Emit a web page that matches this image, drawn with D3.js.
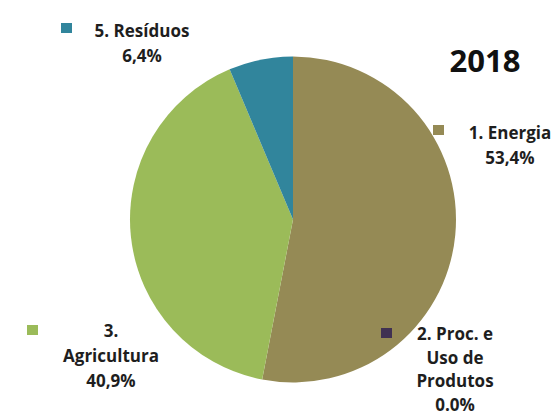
<!DOCTYPE html>
<html>
<head>
<meta charset="utf-8">
<script src="https://cdn.jsdelivr.net/npm/d3@7"></script>
<style>
  body { margin: 0; background: #fff; }
  svg { display: block; }
  .lbl { font-family: "Open Sans", sans-serif; font-weight: 700; font-size: 17px; fill: #1e1e1e; }
  .title { font-family: "Open Sans", sans-serif; font-weight: 700; font-size: 31px; fill: #111; }
</style>
</head>
<body>
<script>
// Data (clockwise from 12 o'clock)
var categories = ["1. Energia", "2. Proc. e Uso de Produtos", "3. Agricultura", "5. Resíduos"];
var values = [53.4, 0.0, 40.9, 6.4];
var valueLabels = ["53,4%", "0.0%", "40,9%", "6,4%"];
var colors = ["#958a55", "#403152", "#9bbb59", "#31859c"];

// label lines as they are wrapped in the picture
var labelLines = [
  ["1. Energia", "53,4%"],
  ["2. Proc. e", "Uso de", "Produtos", "0.0%"],
  ["3.", "Agricultura", "40,9%"],
  ["5. Resíduos", "6,4%"]
];

var svgWidth = 554;
var svgHeight = 418;

var svg = d3.select("body")
  .append("svg")
  .attr("width", svgWidth)
  .attr("height", svgHeight);

var cx = 293, cy = 219.5, radius = 163;

var pie = d3.pie().sort(null).value(d => d);
var arc = d3.arc().innerRadius(0).outerRadius(radius);

var pieGroup = svg.append("g")
  .attr("transform", `translate(${cx}, ${cy})`);

pieGroup.selectAll("path")
  .data(pie(values))
  .enter()
  .append("path")
  .attr("d", arc)
  .attr("fill", (d, i) => colors[i]);

// title
svg.append("text")
  .attr("class", "title")
  .attr("x", 485)
  .attr("y", 72)
  .attr("text-anchor", "middle")
  .text("2018");

// legend-style labels: marker + centred lines
var labelPos = [
  { mx: 433, my: 125, tx: 510, ty: 139, gap: 25 },
  { mx: 381, my: 328, tx: 455, ty: 340, gap: 23.5 },
  { mx: 27, my: 325, tx: 111, ty: 337, gap: 25 },
  { mx: 61, my: 23, tx: 142, ty: 37, gap: 25 }
];

labelLines.forEach(function(lines, i) {
  var p = labelPos[i];
  svg.append("rect")
    .attr("x", p.mx)
    .attr("y", p.my)
    .attr("width", 11)
    .attr("height", 10)
    .attr("fill", colors[i]);

  var t = svg.append("text")
    .attr("class", "lbl")
    .attr("text-anchor", "middle");
  t.selectAll("tspan")
    .data(lines)
    .enter()
    .append("tspan")
    .attr("x", p.tx)
    .attr("y", (d, j) => p.ty + j * p.gap)
    .text(d => d);
});
</script>
</body>
</html>
